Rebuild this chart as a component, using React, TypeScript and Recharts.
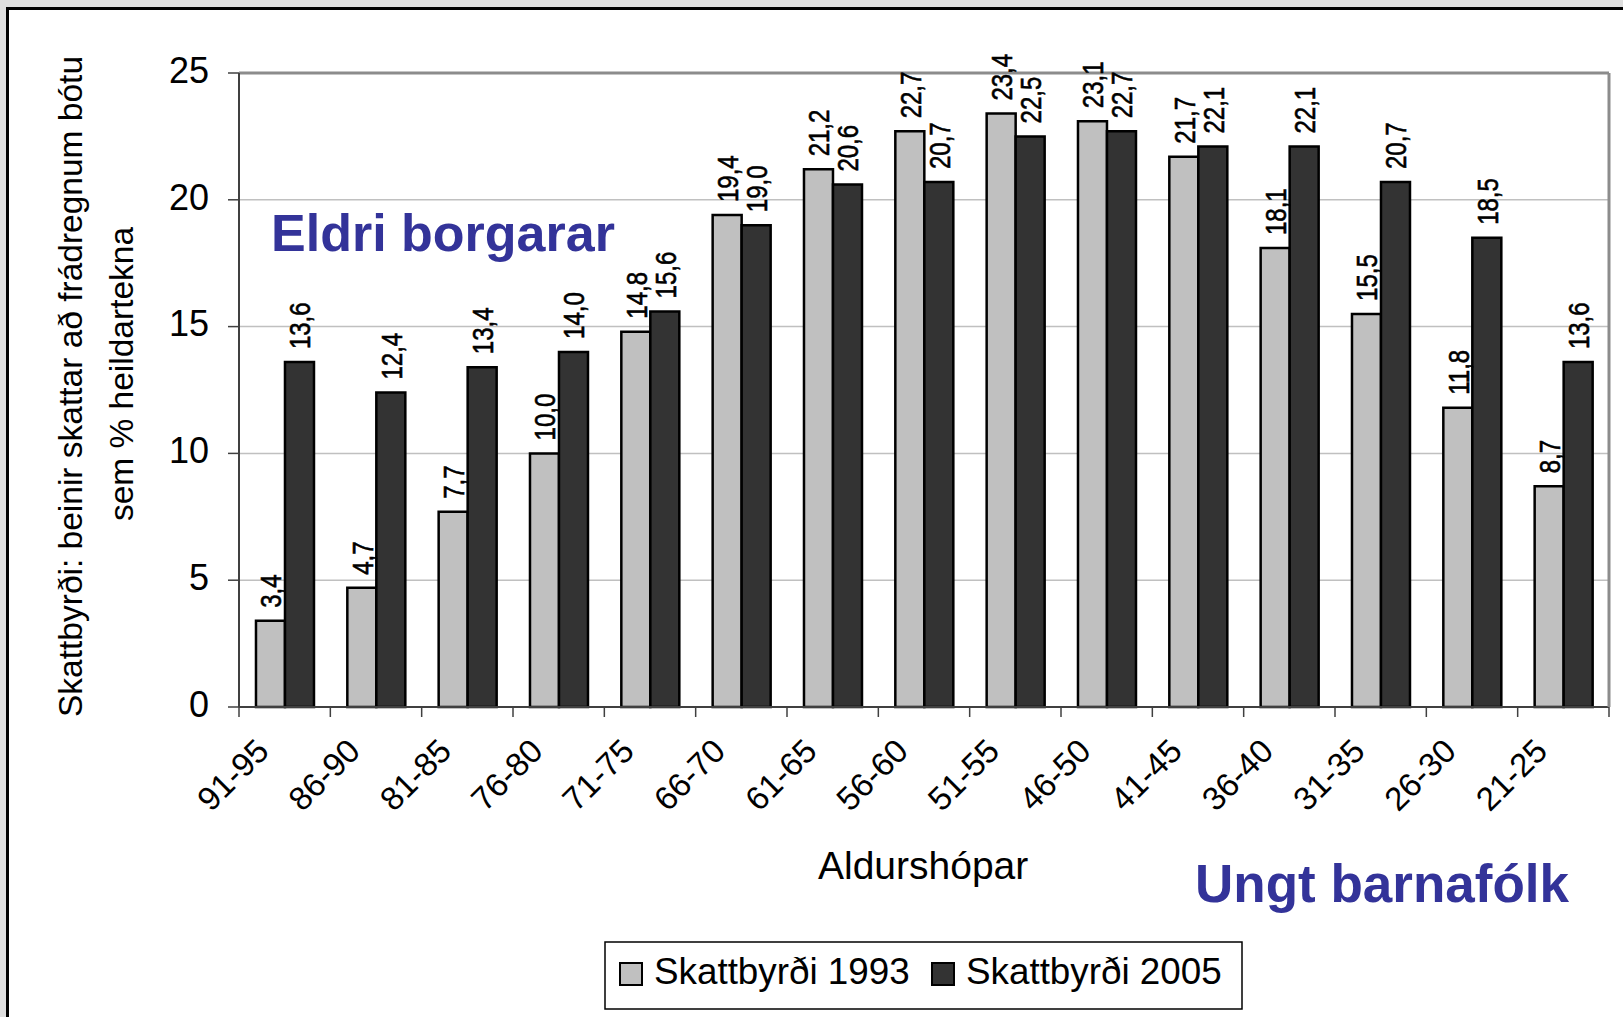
import React from 'react';
import { BarChart, Bar, XAxis, YAxis, CartesianGrid, LabelList, ReferenceLine } from 'recharts';

const categories = ['91-95', '86-90', '81-85', '76-80', '71-75', '66-70', '61-65', '56-60', '51-55', '46-50', '41-45', '36-40', '31-35', '26-30', '21-25'];
const values1993 = [3.4, 4.7, 7.7, 10.0, 14.8, 19.4, 21.2, 22.7, 23.4, 23.1, 21.7, 18.1, 15.5, 11.8, 8.7];
const values2005 = [13.6, 12.4, 13.4, 14.0, 15.6, 19.0, 20.6, 20.7, 22.5, 22.7, 22.1, 22.1, 20.7, 18.5, 13.6];
const seriesNames = ['Skattbyrði 1993', 'Skattbyrði 2005'];
const seriesColors = ['#c0c0c0', '#333333'];
const yTicks = [0, 5, 10, 15, 20, 25];
const yTitleLines = ['Skattbyrði: beinir skattar að frádregnum bótu', 'sem % heildartekna'];
const xTitle = 'Aldurshópar';
const leftNote = 'Eldri borgarar';
const rightNote = 'Ungt barnafólk';

const data = categories.map((c, i) => ({ cat: c, s1993: values1993[i], s2005: values2005[i] }));

const W = 1623;
const H = 1017;
const PL = 239;
const PR = 1609;
const PT = 73;
const PB = 707;
const YAXIS_W = 100;
const XAXIS_H = 100;

const SANS = "'Liberation Sans', Arial, sans-serif";
const AXIS_COLOR = '#404040';
const NOTE_COLOR = '#333399';

const fmt = (v: number) => v.toFixed(1).replace('.', ',');

const renderBarLabel = (props: any) => {
  const { x, y, width, value } = props;
  const fs = 30;
  const cx = Number(x) + Number(width) / 2;
  return (
    <text
      transform={`translate(${cx + fs * 0.36},${Number(y) - 13}) rotate(-90) scale(0.8,1)`}
      fontSize={fs}
      fontFamily={SANS}
      fill="#000"
      stroke="#000"
      strokeWidth={0.6}
      textAnchor="start"
    >
      {fmt(Number(value))}
    </text>
  );
};

const XTick = (props: any) => {
  const { x, y, payload, index } = props;
  const band = (PR - PL) / categories.length;
  return (
    <g>
      <line x1={x - band / 2} x2={x - band / 2} y1={y} y2={y + 10} stroke={AXIS_COLOR} strokeWidth={1.5} />
      {index === categories.length - 1 && (
        <line x1={x + band / 2} x2={x + band / 2} y1={y} y2={y + 10} stroke={AXIS_COLOR} strokeWidth={1.5} />
      )}
      <text
        transform={`translate(${x - 14},${y + 46}) rotate(-45)`}
        textAnchor="end"
        fontSize={33}
        fontFamily={SANS}
        fill="#000"
      >
        {payload.value}
      </text>
    </g>
  );
};

export default function App() {
  return (
    <div style={{ position: 'absolute', left: 0, top: 0, width: W, height: H, background: '#dedede', overflow: 'hidden' }}>
      <div
        style={{
          position: 'absolute',
          left: 6,
          top: 7,
          width: 1700,
          height: 1100,
          borderTop: '3px solid #000',
          borderLeft: '3px solid #000',
          background: '#fff',
        }}
      />
      <div style={{ position: 'absolute', left: 0, top: 0 }}>
        <BarChart
          width={W}
          height={H}
          data={data}
          margin={{ top: PT, left: PL - YAXIS_W, right: W - PR - 1, bottom: H - PB - XAXIS_H }}
          barCategoryGap="18.6%"
          barGap={0}
        >
          <CartesianGrid horizontal vertical={false} stroke="#c0c0c0" strokeWidth={1.5} />
          <XAxis
            dataKey="cat"
            height={XAXIS_H}
            interval={0}
            tickLine={false}
            tickSize={0}
            tickMargin={0}
            axisLine={{ stroke: AXIS_COLOR, strokeWidth: 2 }}
            tick={<XTick />}
          />
          <YAxis
            width={YAXIS_W}
            domain={[0, 25]}
            ticks={yTicks}
            interval={0}
            tickSize={11}
            tickMargin={19}
            axisLine={{ stroke: AXIS_COLOR, strokeWidth: 2 }}
            tickLine={{ stroke: AXIS_COLOR, strokeWidth: 1.5 }}
            tick={{ fontSize: 36, fontFamily: SANS, fill: '#000', dy: -3 }}
          />
          <YAxis
            yAxisId="right"
            orientation="right"
            width={1}
            domain={[0, 25]}
            tick={false}
            tickLine={false}
            axisLine={{ stroke: '#8c8c8c', strokeWidth: 3 }}
          />
          <ReferenceLine y={25} stroke="#8c8c8c" strokeWidth={3} />
          <Bar dataKey="s1993" name={seriesNames[0]} fill={seriesColors[0]} stroke="#000" strokeWidth={2.5} isAnimationActive={false}>
            <LabelList dataKey="s1993" content={renderBarLabel} />
          </Bar>
          <Bar dataKey="s2005" name={seriesNames[1]} fill={seriesColors[1]} stroke="#000" strokeWidth={2.5} isAnimationActive={false}>
            <LabelList dataKey="s2005" content={renderBarLabel} />
          </Bar>
        </BarChart>
      </div>
      <svg width={W} height={H} style={{ position: 'absolute', left: 0, top: 0, pointerEvents: 'none' }}>
        <text transform="translate(82,717) rotate(-90)" textAnchor="start" fontSize={33.5} fontFamily={SANS} fill="#000">
          {yTitleLines[0]}
        </text>
        <text transform="translate(133,374) rotate(-90)" textAnchor="middle" fontSize={33.5} fontFamily={SANS} fill="#000">
          {yTitleLines[1]}
        </text>
        <text x={818} y={879} fontSize={39} fontFamily={SANS} fill="#000">
          {xTitle}
        </text>
        <text x={271} y={251} fontSize={52} fontWeight="bold" fontFamily={SANS} fill={NOTE_COLOR}>
          {leftNote}
        </text>
        <text x={1569} y={902} textAnchor="end" fontSize={53} fontWeight="bold" fontFamily={SANS} fill={NOTE_COLOR}>
          {rightNote}
        </text>
        <rect x={605} y={942} width={637} height={67} fill="#fff" stroke="#000" strokeWidth={1.5} />
        {seriesNames.map((name, i) => {
          const sx = [620, 932][i];
          return (
            <g key={name}>
              <rect x={sx} y={963} width={22} height={22} fill={seriesColors[i]} stroke="#000" strokeWidth={2} />
              <text x={sx + 34} y={984} fontSize={36.8} fontFamily={SANS} fill="#000">
                {name}
              </text>
            </g>
          );
        })}
      </svg>
    </div>
  );
}
